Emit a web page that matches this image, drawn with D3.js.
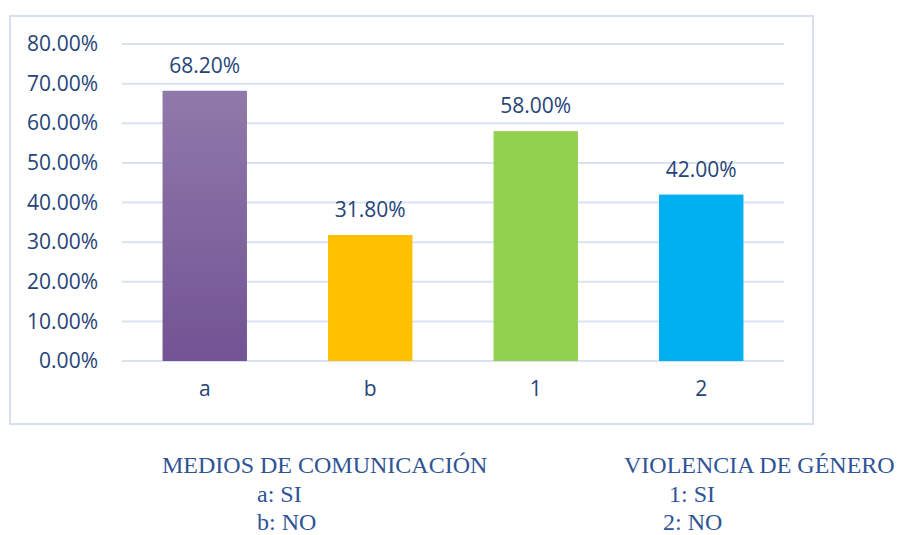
<!DOCTYPE html>
<html>
<head>
<meta charset="utf-8">
<script src="https://cdn.jsdelivr.net/npm/d3@7"></script>
<style>
  body { margin:0; background:#fff; }
  svg { display:block; }
</style>
</head>
<body>
<svg id="chart" width="898" height="535"></svg>
<script>
// ===== DATA =====
const categories = ["a", "b", "1", "2"];
const values = [0.682, 0.318, 0.58, 0.42];
const barColors = ["url(#purpleGrad)", "#ffc000", "#92d050", "#00b0f0"];
const yTicks = [0, 0.1, 0.2, 0.3, 0.4, 0.5, 0.6, 0.7, 0.8];
const legendLeft = ["MEDIOS DE COMUNICACIÓN", "a: SI", "b: NO"];
const legendRight = ["VIOLENCIA DE GÉNERO", "1: SI", "2: NO"];

const svg = d3.select("#chart");
const textColor = "#264478";
const axisFont = "'Open Sans', sans-serif";

// gradient for first bar
const defs = svg.append("defs");
const grad = defs.append("linearGradient").attr("id","purpleGrad").attr("x1",0).attr("y1",0).attr("x2",0).attr("y2",1);
grad.append("stop").attr("offset","0%").attr("stop-color","#9079aa");
grad.append("stop").attr("offset","100%").attr("stop-color","#725394");

// frame
svg.append("rect").attr("x",10).attr("y",16).attr("width",803).attr("height",408)
  .attr("fill","none").attr("stroke","#d6e0f1").attr("stroke-width",2);

const margin = {left:122, right:784, top:44, bottom:361};
const x = d3.scaleBand().domain(categories).range([margin.left, margin.right]).paddingInner(0.49).paddingOuter(0.245);
const y = d3.scaleLinear().domain([0,0.8]).range([margin.bottom, margin.top]);

// gridlines
svg.append("g").selectAll("line").data(yTicks).join("line")
  .attr("x1",margin.left).attr("x2",margin.right)
  .attr("y1",d=>y(d)).attr("y2",d=>y(d))
  .attr("stroke","#d9e2f3").attr("stroke-width",2);

// y axis labels
const yAxis = d3.axisLeft(y).tickValues(yTicks).tickFormat(d=>(d*100).toFixed(2)+"%").tickSize(0).tickPadding(24);
const ya = svg.append("g").attr("transform",`translate(${margin.left},0)`).call(yAxis);
ya.select(".domain").remove();
ya.selectAll("text").attr("fill",textColor).style("font-family",axisFont).style("font-size","21px");

// bars
svg.append("g").selectAll("rect").data(values).join("rect")
  .attr("x",(d,i)=>x(categories[i]))
  .attr("y",d=>y(d))
  .attr("width",x.bandwidth())
  .attr("height",d=>y(0)-y(d))
  .attr("fill",(d,i)=>barColors[i]);

// value labels
svg.append("g").selectAll("text").data(values).join("text")
  .attr("x",(d,i)=>x(categories[i])+x.bandwidth()/2)
  .attr("y",d=>y(d)-18)
  .attr("text-anchor","middle")
  .attr("fill",textColor)
  .style("font-family",axisFont).style("font-size","21px")
  .text(d=>(d*100).toFixed(2)+"%");

// x axis labels
const xAxis = d3.axisBottom(x).tickSize(0).tickPadding(20);
const xa = svg.append("g").attr("transform",`translate(0,${margin.bottom})`).call(xAxis);
xa.select(".domain").remove();
xa.selectAll("text").attr("fill",textColor).style("font-family",axisFont).style("font-size","21px");

// legend notes
const legendFont = "'Liberation Serif', 'Times New Roman', serif";
const legendColor = "#2f5496";
const leftX = [162, 257, 257];
const rightX = [624, 669, 663];
const rowY = [473, 502, 530];
svg.append("g").selectAll("text").data(legendLeft).join("text")
  .attr("x",(d,i)=>leftX[i]).attr("y",(d,i)=>rowY[i])
  .attr("fill",legendColor).style("font-family",legendFont).style("font-size","24px")
  .text(d=>d);
svg.append("g").selectAll("text").data(legendRight).join("text")
  .attr("x",(d,i)=>rightX[i]).attr("y",(d,i)=>rowY[i])
  .attr("fill",legendColor).style("font-family",legendFont).style("font-size","24px")
  .text(d=>d);
</script>
</body>
</html>
